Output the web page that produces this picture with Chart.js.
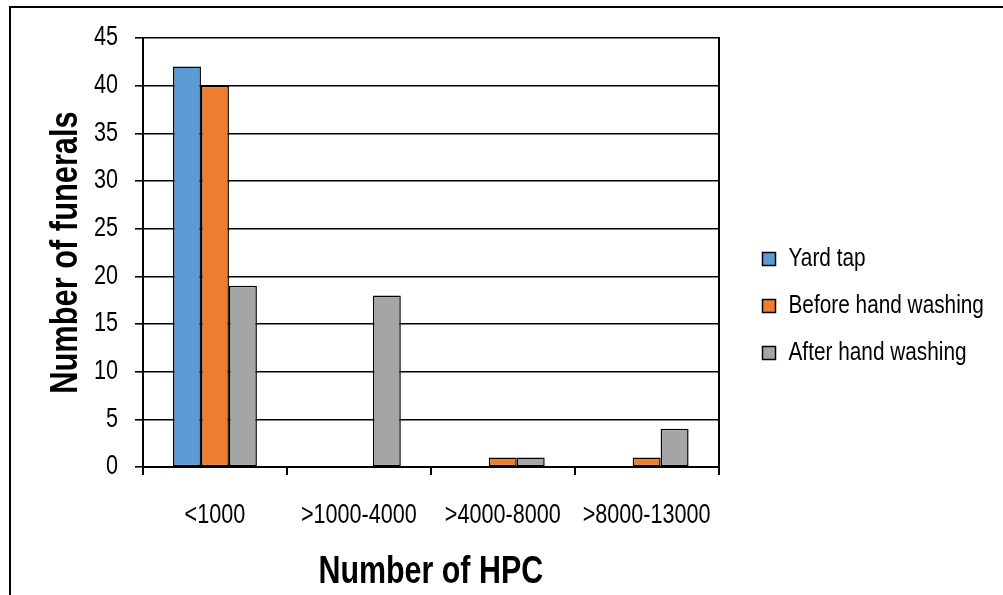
<!DOCTYPE html>
<html>
<head>
<meta charset="utf-8">
<script src="https://cdn.jsdelivr.net/npm/chart.js@4/dist/chart.umd.min.js"></script>
<style>
  html, body { margin: 0; padding: 0; background: #fff; }
  #wrap { width: 1003px; height: 595px; position: relative; }
</style>
</head>
<body>
<div id="wrap"><canvas id="c" width="1003" height="595"></canvas></div>
<script>
// ---- data ----
const categories = ['<1000', '>1000-4000', '>4000-8000', '>8000-13000'];
const yardTap = [42, 0, 0, 0];
const beforeHandWashing = [40, 0, 1, 1];
const afterHandWashing = [19, 18, 1, 4];
const seriesNames = ['Yard tap', 'Before hand washing', 'After hand washing'];
const yMin = 0, yMax = 45, yStep = 5;
const xTitle = 'Number of HPC';
const yTitle = 'Number of funerals';

const FONT = '"Liberation Sans", Arial, sans-serif';
Chart.defaults.font.family = FONT;
Chart.defaults.color = '#000';

// The original uses a condensed (Arial Narrow-like) face; emulate it by
// condensing every text run along its own reading direction.
const CONDENSE = 0.8;
const canvas = document.getElementById('c');
const g = canvas.getContext('2d');
const _fill = g.fillText.bind(g);
const _measure = g.measureText.bind(g);
g.fillText = function (text, x, y, maxWidth) {
  g.save();
  g.translate(x, y);
  g.scale(CONDENSE, 1);
  if (maxWidth === undefined || maxWidth === null) _fill(text, 0, 0);
  else _fill(text, 0, 0, maxWidth / CONDENSE);
  g.restore();
};
g.measureText = function (text) {
  const m = _measure(text);
  return {
    width: m.width * CONDENSE,
    actualBoundingBoxLeft: m.actualBoundingBoxLeft * CONDENSE,
    actualBoundingBoxRight: m.actualBoundingBoxRight * CONDENSE,
    actualBoundingBoxAscent: m.actualBoundingBoxAscent,
    actualBoundingBoxDescent: m.actualBoundingBoxDescent,
    fontBoundingBoxAscent: m.fontBoundingBoxAscent,
    fontBoundingBoxDescent: m.fontBoundingBoxDescent
  };
};

const bw = ctx => (ctx.raw === 0 ? 0 : 1.5);

const LEGEND_W = 261.5;

const framePlugin = {
  id: 'frame',
  beforeLayout(chart) {
    const lg = chart.legend;
    if (lg && !lg._fixedW) {
      const orig = lg.fit.bind(lg);
      lg.fit = function () { orig(); this.width = LEGEND_W; };
      lg._fixedW = true;
    }
  },
  beforeDraw(chart) {
    const c = chart.ctx;
    c.save();
    c.fillStyle = '#fff';
    c.fillRect(0, 0, chart.width, chart.height);
    c.strokeStyle = '#000';
    c.lineWidth = 2;
    c.beginPath();
    c.moveTo(10, chart.height + 2);
    c.lineTo(10, 7);
    c.lineTo(chart.width + 2, 7);
    c.stroke();
    c.restore();
  }
};

new Chart(canvas, {
  type: 'bar',
  data: {
    labels: categories,
    datasets: [
      { label: seriesNames[0], data: yardTap, backgroundColor: '#5B9BD5', borderColor: '#000', borderWidth: bw, borderSkipped: false },
      { label: seriesNames[1], data: beforeHandWashing, backgroundColor: '#ED7D31', borderColor: '#000', borderWidth: bw, borderSkipped: false },
      { label: seriesNames[2], data: afterHandWashing, backgroundColor: '#A5A5A5', borderColor: '#000', borderWidth: bw, borderSkipped: false }
    ]
  },
  options: {
    responsive: false,
    animation: false,
    devicePixelRatio: 1,
    categoryPercentage: 0.583,
    barPercentage: 1,
    layout: { padding: { left: 10, top: 38, right: 0, bottom: 21 } },
    plugins: {
      tooltip: { enabled: false },
      legend: {
        position: 'right',
        align: 'center',
        labels: { boxWidth: 13, boxHeight: 13, padding: 21, color: '#000', font: { size: 26 } }
      }
    },
    scales: {
      x: {
        ticks: { color: '#000', font: { size: 27 }, padding: 24.5, maxRotation: 0 },
        grid: { drawOnChartArea: false, drawTicks: true, tickLength: 8, color: '#000', lineWidth: 2, offset: true },
        border: { color: '#000', width: 2 },
        title: { display: true, text: xTitle, color: '#000', font: { size: 38, weight: 'bold' }, padding: { top: 0, bottom: -21.8 } },
        afterFit(s) { s.height = 107; }
      },
      y: {
        min: yMin, max: yMax,
        ticks: { stepSize: yStep, color: '#000', font: { size: 27 }, padding: 17 },
        grid: { color: '#000', lineWidth: 1.6, tickLength: 8, drawTicks: true },
        border: { color: '#000', width: 2 },
        title: { display: true, text: yTitle, color: '#000', font: { size: 38.5, weight: 'bold' }, padding: { top: 33, bottom: 0 } },
        afterFit(s) { s.width = 133; }
      },
      yR: {
        type: 'linear', position: 'right', display: true,
        ticks: { display: false },
        grid: { display: false },
        border: { display: true, color: '#000', width: 2 },
        afterFit(s) { s.width = 22.9; }
      }
    }
  },
  plugins: [framePlugin]
});
</script>
</body>
</html>
